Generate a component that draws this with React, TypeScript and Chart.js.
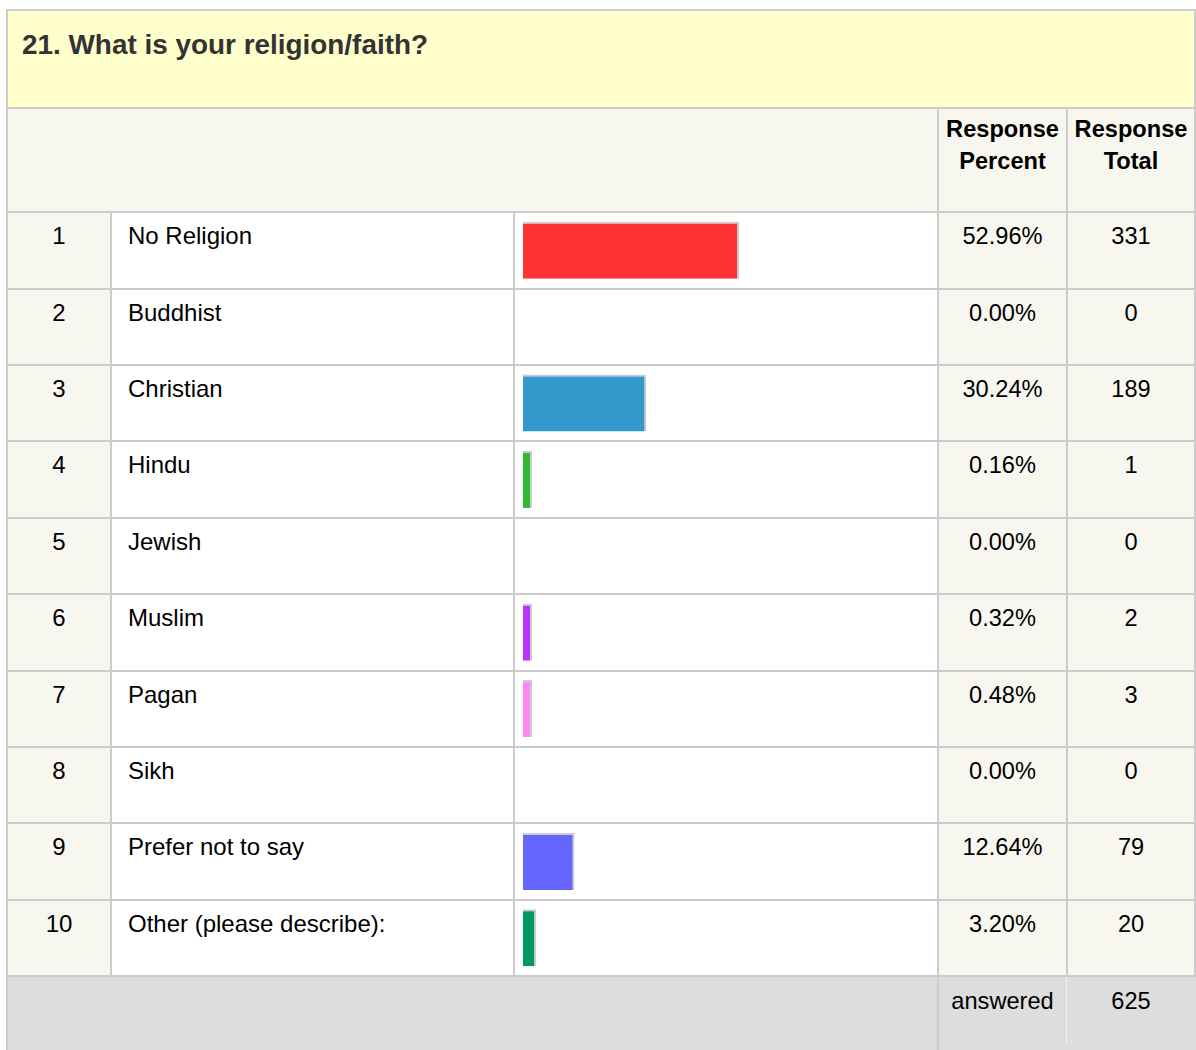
import React, { useEffect, useRef } from "react";
import { Chart, registerables } from "chart.js";

Chart.register(...registerables);

const title = "21. What is your religion/faith?";
const categories = [
  "No Religion",
  "Buddhist",
  "Christian",
  "Hindu",
  "Jewish",
  "Muslim",
  "Pagan",
  "Sikh",
  "Prefer not to say",
  "Other (please describe):",
];
const percents = [52.96, 0.0, 30.24, 0.16, 0.0, 0.32, 0.48, 0.0, 12.64, 3.2];
const totals = [331, 0, 189, 1, 0, 2, 3, 0, 79, 20];
const answeredLabel = "answered";
const answeredTotal = 625;
const barColors = [
  "#FF3333",
  "#FFCC33",
  "#3399CC",
  "#33B833",
  "#996633",
  "#BB33FF",
  "#FF88F0",
  "#FF9933",
  "#6666FF",
  "#009966",
];

const FONT = '"Liberation Sans", Arial, sans-serif';
const LINE = "#CCCCCC";
const BEIGE = "#F7F7F0";

const rowLine = (i: number) => Math.round(211 + i * 76.4 + 0.2);

function Box(props: { l: number; t: number; w: number; h: number; bg: string }) {
  return (
    <div
      style={{
        position: "absolute",
        left: props.l,
        top: props.t,
        width: props.w,
        height: props.h,
        background: props.bg,
      }}
    />
  );
}

function Txt(props: {
  l: number;
  t: number;
  w?: number;
  center?: boolean;
  bold?: boolean;
  size?: number;
  lh?: number;
  color?: string;
  children: React.ReactNode;
}) {
  return (
    <div
      style={{
        position: "absolute",
        left: props.l,
        top: props.t,
        width: props.w,
        textAlign: props.center ? "center" : "left",
        fontFamily: FONT,
        fontWeight: props.bold ? "bold" : "normal",
        fontSize: props.size ?? 24,
        lineHeight: (props.lh ?? 28) + "px",
        color: props.color ?? "#000000",
        whiteSpace: "nowrap",
      }}
    >
      {props.children}
    </div>
  );
}

export default function App() {
  const canvasRef = useRef<HTMLCanvasElement | null>(null);

  useEffect(() => {
    if (!canvasRef.current) return;
    const chart = new Chart(canvasRef.current, {
      type: "bar",
      data: {
        labels: categories,
        datasets: [
          {
            data: percents.map((v) => (v === 0 ? null : v)),
            backgroundColor: barColors,
            borderColor: LINE,
            borderWidth: { top: 2, right: 2, bottom: 0, left: 0 },
            borderSkipped: false,
            barThickness: 57,
            minBarLength: 9,
            inflateAmount: 0,
          } as any,
        ],
      },
      options: {
        indexAxis: "y",
        animation: false,
        responsive: false,
        maintainAspectRatio: false,
        devicePixelRatio: 1,
        events: [],
        layout: { padding: 0 },
        plugins: { legend: { display: false }, tooltip: { enabled: false } },
        scales: {
          x: { display: false, min: 0, max: 100 },
          y: { display: false, offset: true },
        },
      },
    });
    return () => chart.destroy();
  }, []);

  const els: React.ReactNode[] = [];
  els.push(<Box key="ob" l={6} t={9} w={1190} h={1041} bg={LINE} />);
  els.push(<Box key="yel" l={8} t={11} w={1186} h={96} bg="#FFFFCC" />);
  els.push(<Box key="hdr" l={8} t={109} w={1186} h={102} bg={BEIGE} />);
  els.push(<Box key="hv1" l={937} t={109} w={2} h={102} bg={LINE} />);
  els.push(<Box key="hv2" l={1066} t={109} w={2} h={102} bg={LINE} />);

  for (let i = 0; i < categories.length; i++) {
    const top = rowLine(i) + 2;
    const h = rowLine(i + 1) - top;
    els.push(<Box key={"n" + i} l={8} t={top} w={102} h={h} bg={BEIGE} />);
    els.push(<Box key={"c" + i} l={112} t={top} w={401} h={h} bg="#FFFFFF" />);
    els.push(<Box key={"b" + i} l={515} t={top} w={422} h={h} bg="#FFFFFF" />);
    els.push(<Box key={"p" + i} l={939} t={top} w={127} h={h} bg={BEIGE} />);
    els.push(<Box key={"t" + i} l={1068} t={top} w={126} h={h} bg={BEIGE} />);
  }
  const fTop = rowLine(categories.length) + 2;
  els.push(<Box key="foot" l={8} t={fTop} w={1188} h={1050 - fTop} bg="#DDDDDD" />);
  els.push(<Box key="fv1" l={937} t={fTop} w={2} h={1050 - fTop} bg={LINE} />);
  els.push(<Box key="fv2" l={1066} t={fTop} w={1} h={1043 - fTop} bg="#F2F2F2" />);

  return (
    <div
      style={{
        position: "absolute",
        left: 0,
        top: 0,
        width: 1196,
        height: 1050,
        overflow: "hidden",
        background: "#FFFFFF",
      }}
    >
      {els}
      <Txt l={22} t={29} bold size={27.9} lh={32} color="#333333">
        {title}
      </Txt>
      <Txt l={939} t={113} w={127} center bold size={23.6} lh={32}>
        Response
        <br />
        Percent
      </Txt>
      <Txt l={1068} t={113} w={126} center bold size={23.6} lh={32}>
        Response
        <br />
        Total
      </Txt>
      {categories.map((c, i) => {
        const t = rowLine(i) + 11;
        return (
          <React.Fragment key={"txt" + i}>
            <Txt l={8} t={t} w={102} center>
              {i + 1}
            </Txt>
            <Txt l={128} t={t}>
              {c}
            </Txt>
            <Txt l={939} t={t} w={127} center size={23.6}>
              {percents[i].toFixed(2) + "%"}
            </Txt>
            <Txt l={1068} t={t} w={126} center size={23.6}>
              {totals[i]}
            </Txt>
          </React.Fragment>
        );
      })}
      <Txt l={939} t={fTop + 10} w={127} center size={23.6}>
        {answeredLabel}
      </Txt>
      <Txt l={1068} t={fTop + 10} w={126} center size={23.6}>
        {answeredTotal}
      </Txt>
      <canvas
        ref={canvasRef}
        width={408}
        height={764}
        style={{ position: "absolute", left: 523, top: 212, width: 408, height: 764 }}
      />
    </div>
  );
}
